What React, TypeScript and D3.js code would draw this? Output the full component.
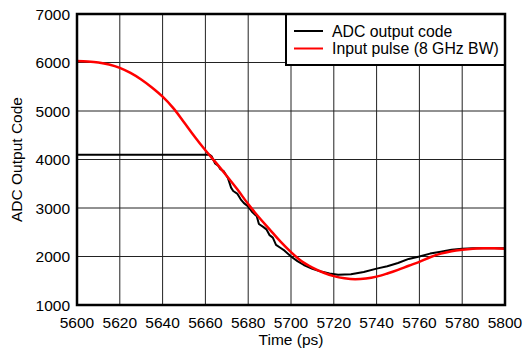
import React from "react";
import * as d3 from "d3";

const redTime = [5600, 5605, 5610, 5615, 5620, 5625, 5630, 5635, 5640, 5645, 5650, 5655, 5660, 5665, 5670, 5675, 5680, 5685, 5690, 5695, 5700, 5705, 5710, 5715, 5720, 5725, 5730, 5735, 5740, 5745, 5750, 5755, 5760, 5765, 5770, 5775, 5780, 5785, 5790, 5795, 5800];
const redValue = [6030, 6022, 6002, 5960, 5890, 5785, 5650, 5485, 5295, 5060, 4770, 4470, 4190, 3930, 3660, 3380, 3080, 2810, 2560, 2310, 2090, 1900, 1770, 1670, 1595, 1550, 1530, 1545, 1585, 1650, 1725, 1810, 1890, 1985, 2060, 2110, 2140, 2160, 2170, 2168, 2160];

const adcTime = [5600, 5662, 5663, 5664.5, 5666, 5667, 5668.5, 5670.5, 5672, 5673, 5675, 5676.5, 5678, 5680, 5682, 5684, 5685, 5687, 5688.5, 5690, 5691.5, 5693, 5695, 5697, 5700, 5703, 5706, 5710, 5714, 5718, 5722, 5728, 5734, 5740, 5745, 5750, 5755, 5760, 5765, 5770, 5775, 5780, 5785, 5790, 5795, 5800];
const adcValue = [4100, 4100, 4060, 3920, 3870, 3800, 3760, 3620, 3420, 3350, 3290, 3180, 3100, 3030, 2910, 2830, 2670, 2610, 2560, 2440, 2390, 2240, 2180, 2120, 2000, 1905, 1825, 1745, 1690, 1650, 1625, 1635, 1680, 1750, 1800, 1865, 1950, 2000, 2060, 2100, 2140, 2160, 2170, 2172, 2172, 2168];

const xTicks = [5600, 5620, 5640, 5660, 5680, 5700, 5720, 5740, 5760, 5780, 5800];
const yTicks = [1000, 2000, 3000, 4000, 5000, 6000, 7000];
const legendLabels = ["ADC output code", "Input pulse (8 GHz BW)"];
const legendColors = ["#000000", "#ff0000"];

const W = 523, H = 350;
const L = 77, R = 505, T = 14, B = 305;
const FONT = "'Liberation Sans', Arial, sans-serif";

export default function App() {
  const x = d3.scaleLinear().domain([5600, 5800]).range([L, R]);
  const y = d3.scaleLinear().domain([1000, 7000]).range([B, T]);
  const adcLine = d3.line<[number, number]>().x((d) => x(d[0])).y((d) => y(d[1]));
  const redLine = d3
    .line<[number, number]>()
    .x((d) => x(d[0]))
    .y((d) => y(d[1]))
    .curve(d3.curveMonotoneX);
  const redPts = redTime.map((t, i) => [t, redValue[i]] as [number, number]);
  const adcPts = adcTime.map((t, i) => [t, adcValue[i]] as [number, number]);

  return (
    <svg width={W} height={H} style={{ position: "absolute", left: 0, top: 0, background: "#fff" }}>
      <rect x={0} y={0} width={W} height={H} fill="#fff" />
      {xTicks.slice(1, -1).map((t) => (
        <line key={"gx" + t} x1={x(t)} x2={x(t)} y1={T} y2={B} stroke="#222" strokeWidth={1} />
      ))}
      {yTicks.slice(1, -1).map((v) => (
        <line key={"gy" + v} x1={L} x2={R} y1={y(v)} y2={y(v)} stroke="#222" strokeWidth={1} />
      ))}
      <path d={adcLine(adcPts) || ""} fill="none" stroke="#000" strokeWidth={2} strokeLinejoin="round" />
      <path d={redLine(redPts) || ""} fill="none" stroke="#ff0000" strokeWidth={2.5} strokeLinejoin="round" />
      {xTicks.map((t) => (
        <text key={"xt" + t} x={x(t)} y={328} textAnchor="middle" fontFamily={FONT} fontSize={15.5} fill="#000">
          {t}
        </text>
      ))}
      {yTicks.map((v) => (
        <text key={"yt" + v} x={70} y={y(v) + 5.5} textAnchor="end" fontFamily={FONT} fontSize={15.5} fill="#000">
          {v}
        </text>
      ))}
      <text x={(L + R) / 2} y={344.5} textAnchor="middle" fontFamily={FONT} fontSize={15.5} fill="#000">
        Time (ps)
      </text>
      <text
        transform={`translate(22,${(T + B) / 2}) rotate(-90)`}
        textAnchor="middle"
        fontFamily={FONT}
        fontSize={15.5}
        fill="#000"
      >
        ADC Output Code
      </text>
      <rect x={286} y={T} width={R - 286} height={51} fill="#fff" stroke="#000" strokeWidth={2} />
      {legendLabels.map((lab, i) => (
        <g key={lab}>
          <line x1={294} x2={323} y1={31 + i * 17.5} y2={31 + i * 17.5} stroke={legendColors[i]} strokeWidth={2} />
          <text x={332} y={31 + i * 17.5 + 5.5} fontFamily={FONT} fontSize={15.8} fill="#000">
            {lab}
          </text>
        </g>
      ))}
      <rect x={L} y={T} width={R - L} height={B - T} fill="none" stroke="#000" strokeWidth={2.5} />
    </svg>
  );
}
